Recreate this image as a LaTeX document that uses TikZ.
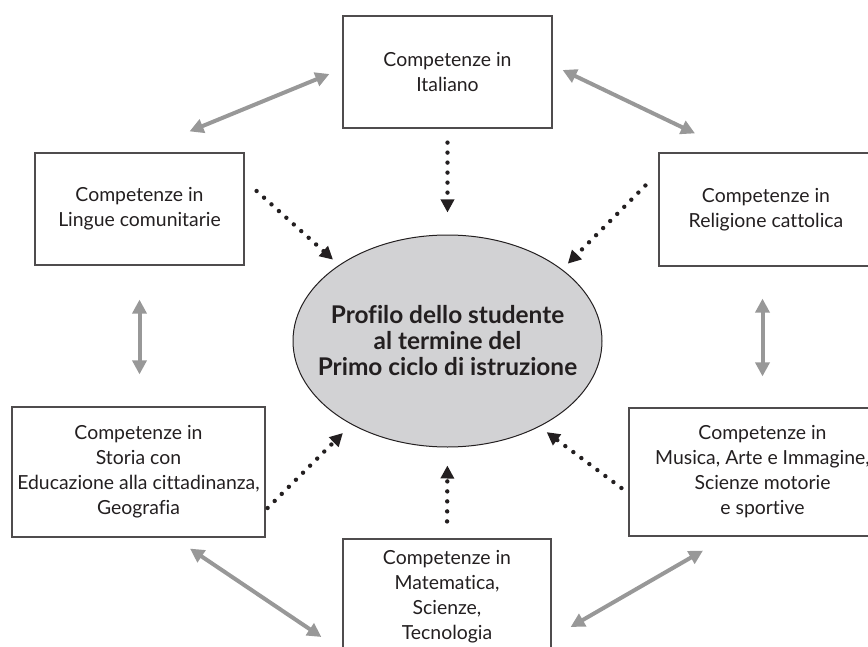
\documentclass[tikz,border=0pt]{standalone}
\usepackage{fontspec}
\setmainfont{Lato}[Ligatures={NoCommon}]
\definecolor{ink}{RGB}{35,31,32}
\definecolor{linkgray}{RGB}{152,152,152}
\definecolor{profgray}{RGB}{210,210,212}
\usetikzlibrary{arrows.meta}
\usetikzlibrary{shapes.geometric}
\tikzset{
  box/.style={
    draw=ink!80, line width=0.6pt, inner sep=0,
    align=center, text=ink,
    font=\fontsize{9.7}{12.5}\selectfont
  },
  profile/.style={
    ellipse, draw=ink, fill=profgray, line width=0.5pt, inner sep=0,
    minimum width=154.5pt, minimum height=106pt
  },
  proftext/.style={align=center, text=ink, font=\fontsize{12.2}{13}\selectfont\bfseries},
  link/.style={{Triangle[length=7pt, width=7pt]}-{Triangle[length=7pt, width=7pt]}, draw=linkgray, line width=2pt},
  feed/.style={-{Triangle[length=6.5pt, width=6.5pt]}, draw=ink, line width=2.2pt,
    dash pattern=on 0pt off 5pt, line cap=round}
}
\begin{document}
\begin{tikzpicture}[x=0.5pt, y=-0.5pt]
      \useasboundingbox (0,0) rectangle (868,647);
      \clip (0,0) rectangle (868,647);

      \node [profile] (prof) at (447.5,341) {};
      \node [proftext] (proftitle) at (prof.center) {Profilo dello studente\\al termine del\\Primo ciclo di istruzione};

      \node [box, minimum width=104.5pt, minimum height=56pt] (ital) at (447.5,72) {Competenze in\\Italiano};
      \node [box, minimum width=104.5pt, minimum height=56pt] (ling) at (139.5,209) {Competenze in\\Lingue comunitarie};
      \node [box, minimum width=107pt, minimum height=56.5pt] (reli) at (766,209.5) {Competenze in\\Religione cattolica};
      \node [box, minimum width=126.5pt, minimum height=65pt] (stor) at (138.5,472) {Competenze in\\Storia con\\Educazione alla cittadinanza,\\Geografia};
      \node [box, minimum width=133.5pt, minimum height=64pt] (musi) at (762.5,472) {Competenze in\\Musica, Arte e Immagine,\\Scienze motorie\\e sportive};
      \node [box, minimum width=104pt, minimum height=58pt] (mate) at (447,597) {Competenze in\\Matematica,\\Scienze,\\Tecnologia};

      % links between the boxes
      \draw [link] ([shift={(50,-21)}]ling.north) -- ([shift={(-13,2)}]ital.west);
      \draw [link] ([shift={(10,-2)}]ital.east) -- ([shift={(-71,-19)}]reli.north);
      \draw [link, shorten <=17pt, shorten >=16pt] (ling.south) -- (ling.south |- stor.north);
      \draw [link, shorten <=16pt, shorten >=15.5pt] (reli.south -| musi.north) -- (musi.north);
      \draw [link] ([shift={(51.5,11)}]stor.south) -- ([shift={(-21,40)}]mate.west);
      \draw [link] ([shift={(-59.5,14)}]musi.south) -- ([shift={(19,30)}]mate.east);

      % arrows into the profile
      \draw [feed, shorten <=7pt, shorten >=11pt] (ital.south) -- (prof.north);
      \draw [feed, shorten >=4pt] ([shift={(12,-18)}]ling.east) -- (prof.145);
      \draw [feed, shorten >=4pt] ([shift={(-13,-24)}]reli.west) -- (prof.32);
      \draw [feed, shorten >=6pt] ([shift={(2,36)}]stor.east) -- (prof.221);
      \draw [feed, shorten >=4.5pt] ([shift={(-7,16)}]musi.west) -- (prof.317);
      \draw [feed, shorten <=8.5pt, shorten >=9pt] (mate.north) -- (prof.south);
    \end{tikzpicture}
\end{document}
